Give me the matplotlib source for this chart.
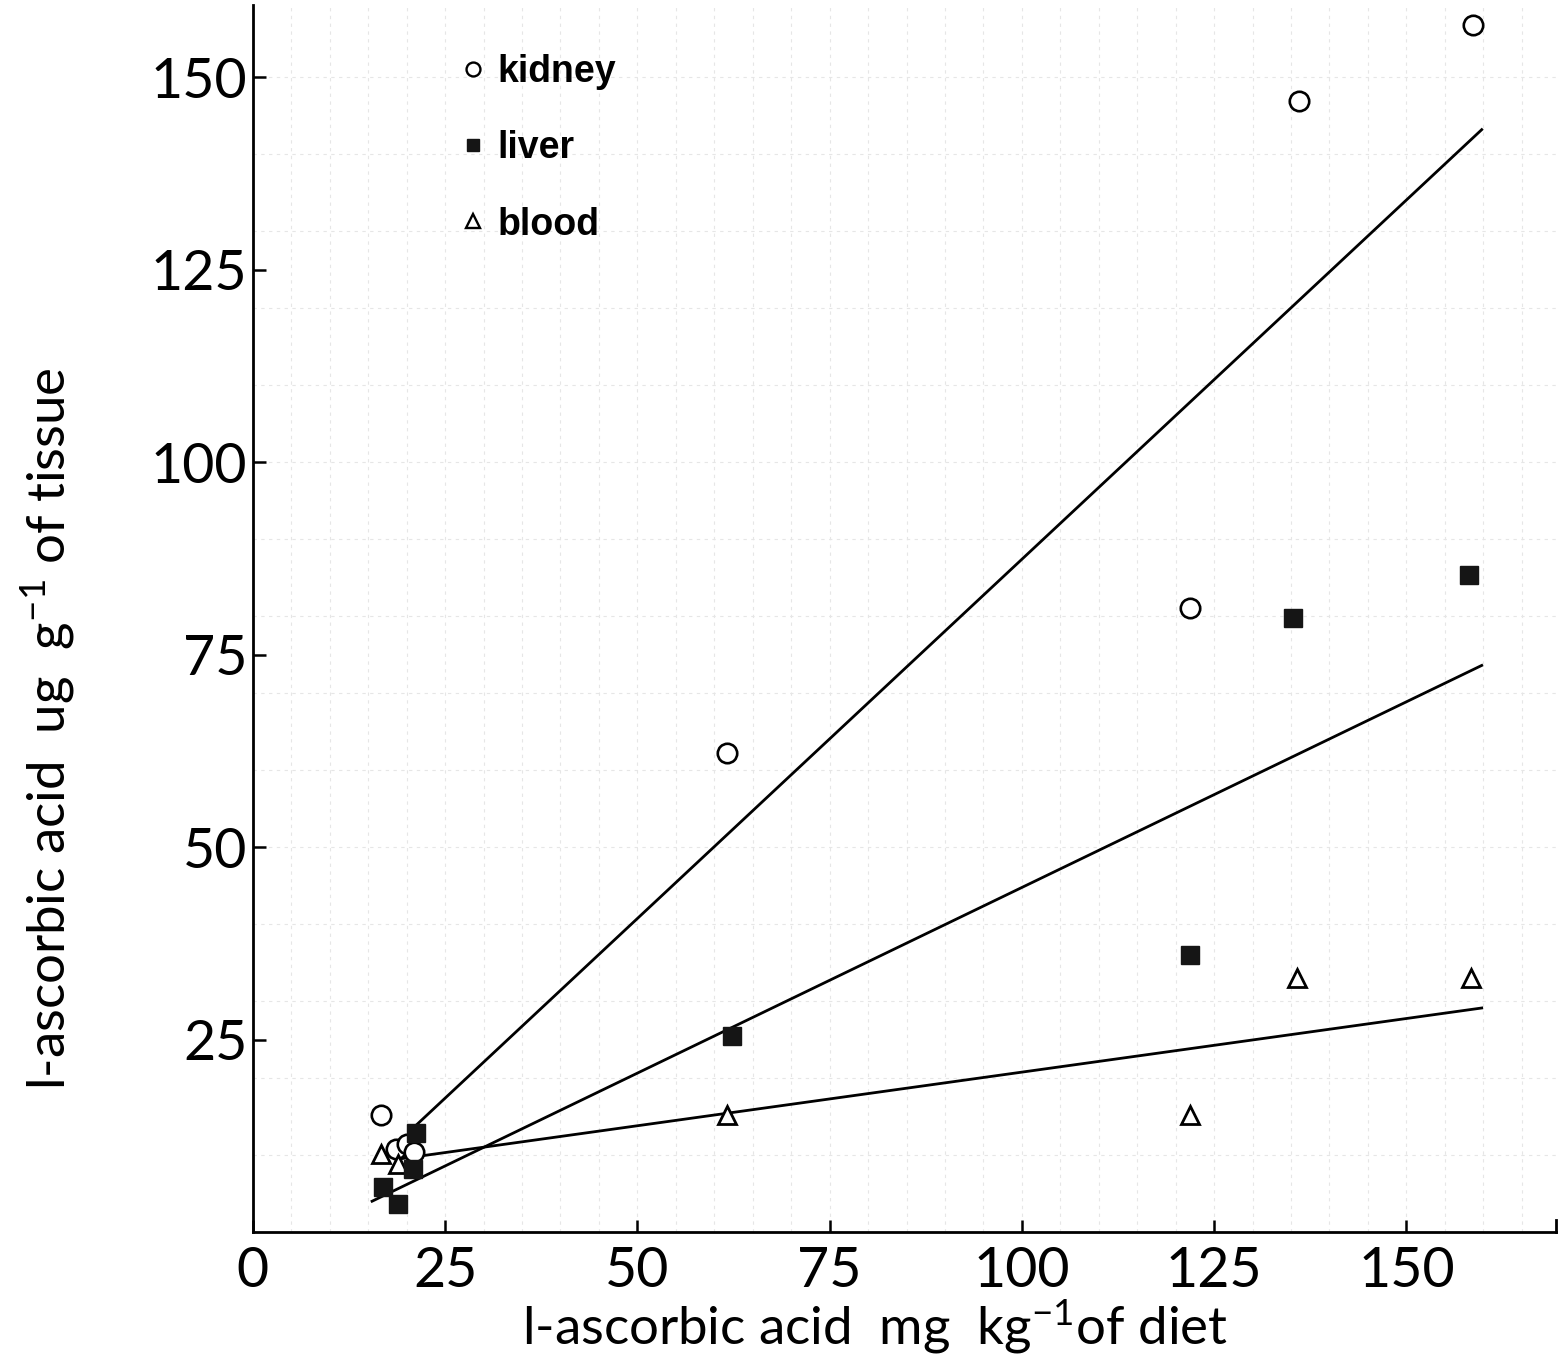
import matplotlib
matplotlib.use('Agg')
import matplotlib.pyplot as plt
from matplotlib.lines import Line2D
import numpy as np

plt.rcParams['mathtext.fontset'] = 'custom'
plt.rcParams['mathtext.rm'] = 'Lato'
plt.rcParams['mathtext.it'] = 'Lato'

# data
kidney_x = [16.6, 18.6, 20.0, 21.0, 61.7, 121.8, 136.1, 158.7]
kidney_y = [15.2, 10.8, 11.4, 10.4, 62.2, 81.1, 146.9, 156.8]

liver_x = [21.2, 20.8, 16.9, 18.9, 62.3, 121.8, 135.2, 158.1]
liver_y = [12.8, 8.2, 5.9, 3.6, 25.5, 36.0, 79.7, 85.3]

blood_x = [16.7, 18.9, 61.7, 121.8, 135.8, 158.4]
blood_y = [10.1, 8.8, 15.2, 15.2, 33.0, 33.0]

# regression line end points
kidney_fit_x = [20.4, 159.8]
kidney_fit_y = [13.1, 143.2]
liver_fit_x = [15.5, 159.8]
liver_fit_y = [4.0, 73.6]
blood_fit_x = [19.1, 159.8]
blood_fit_y = [9.5, 29.1]

x_ticks = [0, 25, 50, 75, 100, 125, 150]
y_ticks = [25, 50, 75, 100, 125, 150]

tick_font = 'Lato'

fig = plt.figure(figsize=(15.61, 13.68), dpi=100)
ax = fig.add_axes([0.162, 0.0994, 0.835, 0.897])

# faint graph paper
for gx in np.arange(5, 170, 5):
    ax.axvline(gx, color='#e6e6e6', lw=0.8, ls=(0, (3, 4)), zorder=0)
for gy in np.arange(10, 160, 10):
    ax.axhline(gy, color='#e6e6e6', lw=0.8, ls=(0, (3, 4)), zorder=0)

ax.plot(kidney_fit_x, kidney_fit_y, color='black', lw=2.0, zorder=2)
ax.plot(liver_fit_x, liver_fit_y, color='black', lw=2.0, zorder=2)
ax.plot(blood_fit_x, blood_fit_y, color='black', lw=2.0, zorder=2)

ax.plot(kidney_x, kidney_y, 'o', ms=14, mfc='white', mec='black', mew=1.9,
        ls='none', zorder=3)
ax.plot(liver_x, liver_y, 's', ms=12.5, mfc='#151515', mec='#151515', mew=1,
        ls='none', zorder=4)
ax.plot(blood_x, blood_y, '^', ms=13, mfc='white', mec='black', mew=2.0,
        ls='none', zorder=3)

ax.set_xlim(0, 169.5)
ax.set_ylim(0, 159.4)
ax.set_xticks(x_ticks)
ax.set_yticks(y_ticks)
ax.set_xticklabels([str(t) for t in x_ticks])
ax.set_yticklabels([str(t) for t in y_ticks])

for lab in ax.get_xticklabels() + ax.get_yticklabels():
    lab.set_fontfamily(tick_font)
    lab.set_fontsize(40)

ax.tick_params(axis='both', direction='in', length=9, width=1.8)
ax.tick_params(axis='x', pad=10)
ax.tick_params(axis='y', pad=4)

ax.spines['top'].set_visible(False)
ax.spines['right'].set_visible(False)
ax.spines['left'].set_linewidth(2.0)
ax.spines['bottom'].set_linewidth(2.0)
# little end mark on the x axis
ax.plot([169.5, 169.5], [0, 1.5], color='black', lw=2, clip_on=False)

ax.set_xlabel(r'l-ascorbic acid  mg  kg$^{-1}$of diet', fontfamily=tick_font,
              fontsize=38)
ax.xaxis.set_label_coords(0.477, -0.053)
ax.xaxis.label.set_va('top')
ax.set_ylabel(r'l-ascorbic acid  ug  g$^{-1}$ of tissue', fontfamily=tick_font,
              fontsize=38)
ax.yaxis.set_label_coords(-0.135, 0.41)

handles = [Line2D([], [], marker='o', ls='none', ms=10, mfc='white', mec='black', mew=1.7),
           Line2D([], [], marker='s', ls='none', ms=9, mfc='#151515', mec='#151515'),
           Line2D([], [], marker='^', ls='none', ms=10, mfc='white', mec='black', mew=1.7)]
ax.legend(handles, ['kidney', 'liver', 'blood'], loc='upper left',
          bbox_to_anchor=(0.146, 0.975), frameon=False,
          prop={'family': 'Liberation Sans', 'weight': 'bold', 'size': 27},
          handlelength=0.6, handletextpad=0.35, labelspacing=1.07,
          borderpad=0)

plt.savefig('out.png', dpi=100)
plt.close()
